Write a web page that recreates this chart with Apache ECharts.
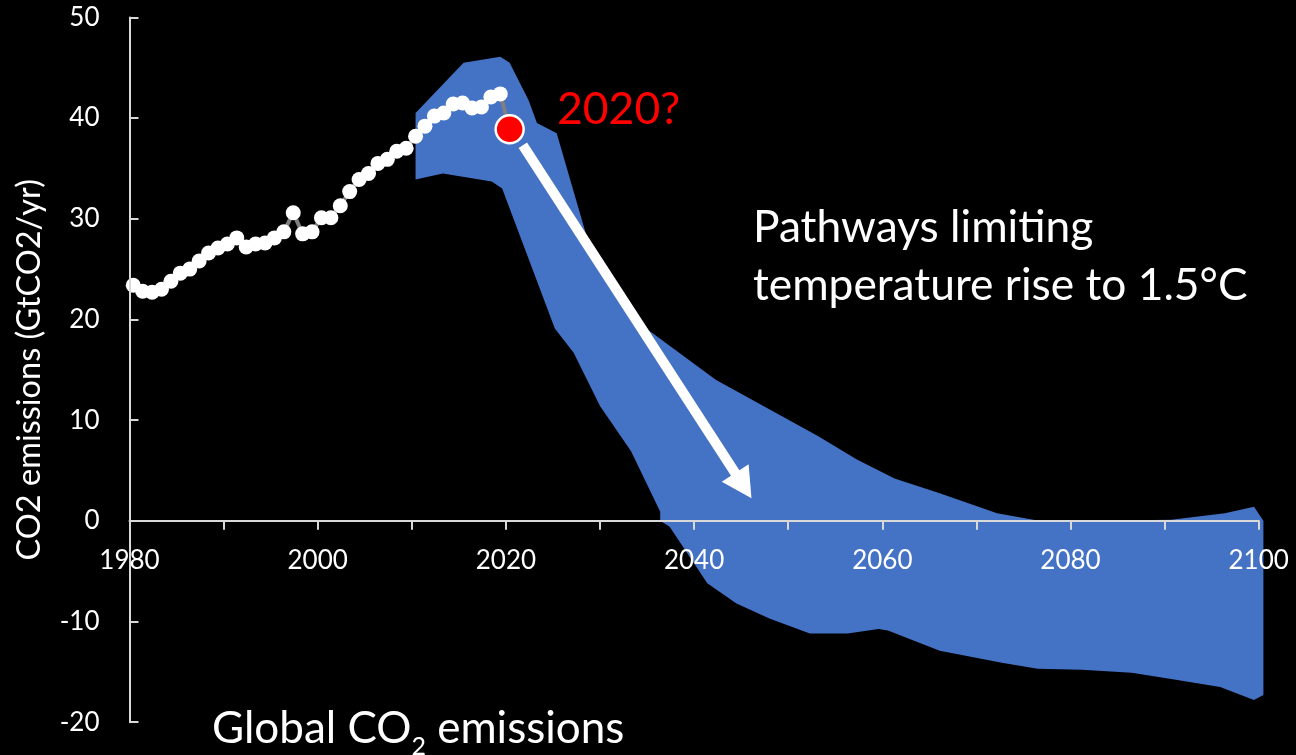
<!DOCTYPE html>
<html><head><meta charset="utf-8">
<script src="https://cdn.jsdelivr.net/npm/echarts@6/dist/echarts.min.js"></script>
<style>html,body{margin:0;padding:0;background:#000;} #main{width:1296px;height:755px;}</style>
</head><body><div id="main"></div>
<script>
// Historical global CO2 emissions (GtCO2/yr), plotted at mid-year positions
const histYears = [1980.4,1981.4,1982.4,1983.4,1984.4,1985.4,1986.4,1987.4,1988.4,1989.4,
  1990.4,1991.4,1992.4,1993.4,1994.4,1995.4,1996.4,1997.4,1998.4,1999.4,
  2000.4,2001.4,2002.4,2003.4,2004.4,2005.4,2006.4,2007.4,2008.4,2009.4,
  2010.4,2011.4,2012.4,2013.4,2014.4,2015.4,2016.4,2017.4,2018.4,2019.4];
const histValues = [23.4,22.8,22.7,23.0,23.8,24.6,25.0,25.8,26.6,27.1,
  27.5,28.1,27.2,27.5,27.6,28.1,28.7,30.6,28.5,28.7,
  30.1,30.1,31.3,32.7,33.9,34.5,35.5,35.9,36.7,37.0,
  38.2,39.2,40.2,40.5,41.4,41.5,41.0,41.1,42.1,42.4];
// 2020 question mark point
const point2020 = [2020.4, 38.9];
// 1.5°C pathway range: upper and lower edges
const bandUpperYears  = [2010.4,2015.5,2019.4,2020.4,2022.4,2023.3,2025.4,2028.6,2035.2,2042.3,2053.2,2057.3,2061.3,2066.1,2072.2,2076.5,2082.7,2090.7,2096.4,2099.5,2100.5];
const bandUpperValues = [40.5,45.5,46.1,45.5,41.8,39.5,38.5,28.2,18.9,14.0,8.4,6.1,4.2,2.75,0.76,0.03,0.0,0.1,0.76,1.4,0.0];
const bandLowerYears  = [2010.4,2013.3,2018.5,2019.6,2025.2,2027.2,2030.0,2033.3,2036.4,2036.4,2037.4,2041.4,2044.5,2048.0,2052.3,2056.3,2059.6,2060.6,2066.1,2072.7,2076.5,2081.2,2086.5,2090.7,2095.9,2099.5,2100.5];
const bandLowerValues = [33.9,34.5,33.7,33.0,19.1,16.7,11.4,6.9,0.9,0.0,-0.6,-6.2,-8.2,-9.7,-11.2,-11.2,-10.75,-10.9,-12.9,-14.1,-14.7,-14.8,-15.1,-15.7,-16.5,-17.8,-17.3];
// Arrow from the 2020 point down along the pathway
const arrowStart = [2021.8, 37.3];
const arrowTip = [2046.1, 2.25];
// Axis ticks
const xLabelYears = [1980, 2000, 2020, 2040, 2060, 2080, 2100];
const yTickValues = [-20, -10, 0, 10, 20, 30, 40, 50];

const FONT = 'Lato';
const GRID = {left: 129.5, right: 37.3, top: 17.4, bottom: 32.8};
const gridH = 755 - GRID.top - GRID.bottom;
const yMin = yTickValues[0], yMax = yTickValues[yTickValues.length - 1];
// move x axis up so it sits on y = 0
const xAxisOffset = -gridH * (0 - yMin) / (yMax - yMin);

const chart = echarts.init(document.getElementById('main'), null, {renderer: 'canvas'});

const lineData = histYears.map((y, i) => [y, histValues[i]]);
lineData.push({
  value: point2020,
  symbolSize: 28,
  itemStyle: {color: '#ff0000', borderColor: '#ffffff', borderWidth: 2.5}
});

const option = {
  backgroundColor: '#000000',
  animation: false,
  grid: Object.assign({containLabel: false, outerBoundsMode: 'none'}, GRID),
  xAxis: {
    type: 'value', position: 'bottom',
    min: xLabelYears[0], max: xLabelYears[xLabelYears.length - 1], interval: 10,
    z: 10, offset: xAxisOffset,
    axisLine: {onZero: false, lineStyle: {color: '#d9d9d9', width: 2}},
    axisTick: {show: true, length: 9, lineStyle: {color: '#d9d9d9', width: 2}},
    splitLine: {show: false},
    axisLabel: {
      color: '#ffffff', fontFamily: FONT, fontSize: 26, margin: 27,
      formatter: v => (xLabelYears.indexOf(v) >= 0 ? String(v) : '')
    }
  },
  yAxis: {
    type: 'value',
    min: yMin, max: yMax, interval: 10,
    z: 10,
    name: 'CO2 emissions (GtCO2/yr)',
    nameLocation: 'middle', nameGap: 83, nameRotate: 90,
    nameTextStyle: {color: '#ffffff', fontFamily: FONT, fontSize: 32.5},
    axisLine: {show: true, onZero: false, lineStyle: {color: '#d9d9d9', width: 2}},
    axisTick: {show: true, inside: true, length: 9, lineStyle: {color: '#d9d9d9', width: 2}},
    splitLine: {show: false},
    axisLabel: {color: '#ffffff', fontFamily: FONT, fontSize: 26, margin: 30}
  },
  series: [
    {
      type: 'custom', name: 'band', coordinateSystem: 'cartesian2d', z: 1, silent: true,
      data: [[bandUpperYears[0], bandUpperValues[0]]],
      renderItem: (params, api) => {
        const pts = [];
        for (let i = 0; i < bandUpperYears.length; i++) pts.push(api.coord([bandUpperYears[i], bandUpperValues[i]]));
        for (let i = bandLowerYears.length - 1; i >= 0; i--) pts.push(api.coord([bandLowerYears[i], bandLowerValues[i]]));
        return {type: 'polygon', shape: {points: pts}, style: {fill: '#4472c4'}};
      }
    },
    {
      type: 'line', name: 'historical', z: 3,
      data: lineData,
      symbol: 'circle', symbolSize: 15, showSymbol: true,
      lineStyle: {color: '#7f7f7f', width: 4},
      itemStyle: {color: '#ffffff', borderWidth: 0},
      silent: true
    },
    {
      type: 'custom', name: 'arrow', coordinateSystem: 'cartesian2d', z: 4, silent: true,
      data: [[arrowStart[0], arrowStart[1], arrowTip[0], arrowTip[1]]],
      renderItem: (params, api) => {
        const a = api.coord([api.value(0), api.value(1)]);
        const b = api.coord([api.value(2), api.value(3)]);
        const dx = b[0] - a[0], dy = b[1] - a[1];
        const L = Math.hypot(dx, dy), ux = dx / L, uy = dy / L;
        const headLen = 30, headW = 32;
        const base = [b[0] - ux * headLen, b[1] - uy * headLen];
        const nx = -uy, ny = ux;
        return {type: 'group', children: [
          {type: 'line', shape: {x1: a[0], y1: a[1], x2: base[0] + ux * 3, y2: base[1] + uy * 3},
           style: {stroke: '#ffffff', lineWidth: 10}},
          {type: 'polygon', shape: {points: [b, [base[0] + nx * headW / 2, base[1] + ny * headW / 2], [base[0] - nx * headW / 2, base[1] - ny * headW / 2]]},
           style: {fill: '#ffffff'}}
        ]};
      }
    }
  ],
  graphic: [
    {type: 'text', z: 20, style: {x: 557, y: 110, text: '2020?', fill: '#ff0000', font: '44.5px ' + FONT, verticalAlign: 'middle'}},
    {type: 'text', z: 20, style: {x: 753, y: 228, text: 'Pathways limiting', fill: '#ffffff', font: '44.3px ' + FONT, verticalAlign: 'middle'}},
    {type: 'text', z: 20, style: {x: 753, y: 286, text: 'temperature rise to 1.5°C', fill: '#ffffff', font: '44.3px ' + FONT, verticalAlign: 'middle'}},
    {type: 'text', z: 20, style: {
      x: 212, y: 707, verticalAlign: 'top',
      text: '{a|Global CO}{s|2}{a| emissions}',
      rich: {
        a: {fontSize: 44, fontFamily: FONT, fill: '#ffffff', lineHeight: 50, verticalAlign: 'top'},
        s: {fontSize: 25, fontFamily: FONT, fill: '#ffffff', lineHeight: 25, padding: [27, 0, 0, 0], verticalAlign: 'top'}
      }
    }}
  ]
};
chart.setOption(option);
</script>
</body></html>
